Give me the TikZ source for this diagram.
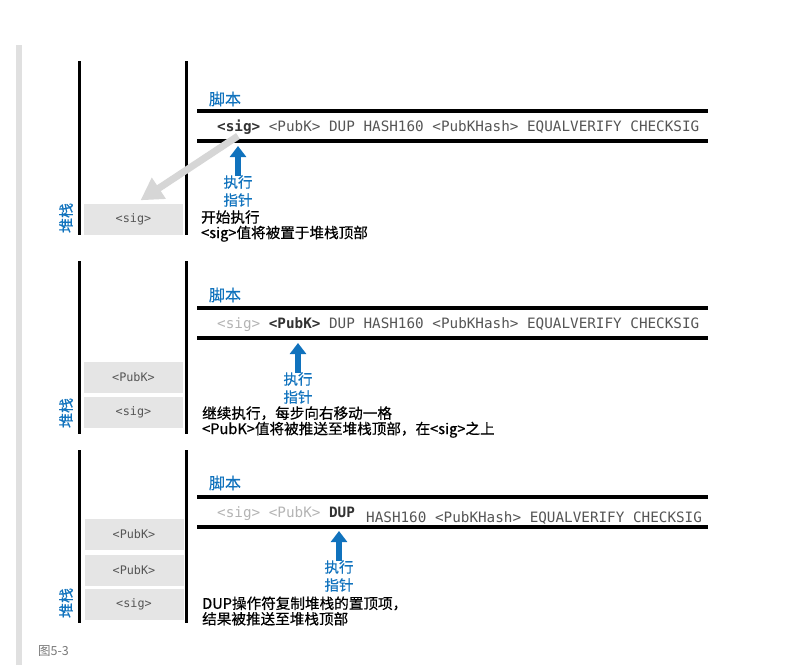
\documentclass[tikz,border=0pt]{standalone}
\usepackage{fontspec}
\setmainfont{Noto Sans CJK SC}[FakeBold=0.5]
\newfontfamily\plaincjk{Noto Sans CJK SC}
\setmonofont{DejaVu Sans Mono}
\usetikzlibrary{arrows.meta}
\definecolor{cblue}{RGB}{16,114,189}
\definecolor{boxgray}{RGB}{229,229,229}
\definecolor{txtgray}{RGB}{85,85,85}
\definecolor{darktxt}{RGB}{50,50,50}
\definecolor{donegray}{RGB}{180,180,180}
\definecolor{bargray}{RGB}{224,224,224}
\definecolor{arrgray}{RGB}{214,214,214}
\definecolor{capgray}{RGB}{120,120,120}
\begin{document}
\begin{tikzpicture}[x=1pt,y=-1pt,
 wall/.style={line width=3pt,black},
 sline/.style={line width=3.5pt,black},
 stackbox/.style={fill=boxgray,draw=none,minimum width=99pt,minimum height=31pt,inner sep=0,font=\ttfamily\fontsize{11.8}{13}\selectfont,text=txtgray},
 titlelbl/.style={text=cblue,font=\fontsize{16}{18}\selectfont,inner sep=0},
 stacklabel/.style={text=cblue,font=\fontsize{15}{17}\selectfont,rotate=90,inner sep=0},
 ptr/.style={text=cblue,font=\fontsize{14.5}{18}\selectfont,align=center,inner sep=0},
 ptrarrow/.style={cblue,line width=6pt,-{Triangle[length=11pt,width=16pt]}},
 garrow/.style={arrgray,line width=7pt,-{Triangle[length=22pt,width=24pt]}},
 scripttxt/.style={font=\ttfamily\fontsize{14.3}{16}\selectfont,text=txtgray,inner sep=0,anchor=base west},
 note/.style={font=\fontsize{14.6}{15.5}\selectfont,align=left,inner sep=0,anchor=west},
 caption/.style={font=\plaincjk\fontsize{12.5}{14}\selectfont,text=capgray,anchor=west,inner sep=0},
]
\useasboundingbox (0,0) rectangle (790,665);
\fill[bargray] (16,45) rectangle (22,665);

% ---------------- Panel 1 ----------------
\draw[wall] (79,61) -- (79,235);
\draw[wall] (186,61) -- (186,235);
\node[stackbox] (a1) at (133.5,219) {<sig>};
\node[stacklabel] (st1) at (66,218) {堆栈};
\node[titlelbl] (ti1) at (225,99) {脚本};
\draw[sline] (197,111) -- (708,111);
\draw[sline] (197,141) -- (708,141);
\node[scripttxt] (sc1) at (217,131) {\textcolor{darktxt}{\textbf{<sig>}} <PubK> DUP HASH160 <PubKHash> EQUALVERIFY CHECKSIG};
\coordinate (g1) at (238,136);
\draw[garrow] (g1) -- ([xshift=7pt,yshift=3pt]a1.north);
\node[ptr] (p1) at (238,191) {执行\\指针};
\coordinate (t1) at (238,146);
\draw[ptrarrow] ([yshift=-1pt]p1.north) -- (t1);
\node[note] (n1) at (201,226) {开始执行\\<sig>值将被置于堆栈顶部};

% ---------------- Panel 2 ----------------
\draw[wall] (79,261) -- (79,434);
\draw[wall] (186,261) -- (186,434);
\node[stackbox] (b1) at (133.5,412.5) {<sig>};
\node[stackbox] (b2) at (133.5,377.5) {<PubK>};
\node[stacklabel] (st2) at (66,413) {堆栈};
\node[titlelbl] (ti2) at (225,295) {脚本};
\draw[sline] (197,308) -- (708,308);
\draw[sline] (197,338) -- (708,338);
\node[scripttxt] (sc2) at (217,328) {\textcolor{donegray}{<sig>} \textcolor{darktxt}{\textbf{<PubK>}} DUP HASH160 <PubKHash> EQUALVERIFY CHECKSIG};
\node[ptr] (p2) at (298,388) {执行\\指针};
\coordinate (t2) at (298,343);
\draw[ptrarrow] ([yshift=-1pt]p2.north) -- (t2);
\node[note] (n2) at (202,422) {继续执行，每步向右移动一格\\<PubK>值将被推送至堆栈顶部，在<sig>之上};

% ---------------- Panel 3 ----------------
\draw[wall] (79,450) -- (79,623);
\draw[wall] (186,450) -- (186,623);
\node[stackbox] (c1) at (134,604.5) {<sig>};
\node[stackbox] (c2) at (134,570) {<PubK>};
\node[stackbox] (c3) at (134,534.5) {<PubK>};
\node[stacklabel] (st3) at (66,603) {堆栈};
\node[titlelbl] (ti3) at (225,483) {脚本};
\draw[sline] (197,497) -- (708,497);
\draw[sline] (197,527) -- (708,527);
\node[scripttxt] (sc3a) at (217,517) {\textcolor{donegray}{<sig> <PubK>} \textcolor{darktxt}{\textbf{DUP}}};
\node[scripttxt] (sc3b) at (366,522.5) {HASH160 <PubKHash> EQUALVERIFY CHECKSIG};
\node[ptr] (p3) at (339,576) {执行\\指针};
\coordinate (t3) at (339,531);
\draw[ptrarrow] ([yshift=-1pt]p3.north) -- (t3);
\node[note] (n3) at (202,611) {DUP操作符复制堆栈的置顶项，\\结果被推送至堆栈顶部};

\node[caption] (cap) at (38,651) {图5-3};
\end{tikzpicture}
\end{document}
